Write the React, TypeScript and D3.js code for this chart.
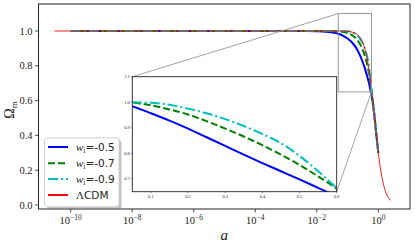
import React from "react";
import * as d3 from "d3";

// ---- data ----
const aW = [1e-10, 1e-4, 1e-3, 0.005, 0.01, 0.02, 0.03, 0.05, 0.075, 0.1, 0.15, 0.2, 0.25, 0.3, 0.35, 0.4, 0.45, 0.5, 0.55, 0.6, 0.65, 0.7, 0.75, 0.8, 0.85, 0.9, 0.95, 1.0];
const omegaW05 = [1, 1, 0.9999, 0.9995, 0.9985, 0.996, 0.992, 0.984, 0.971, 0.957, 0.928, 0.897, 0.863, 0.829, 0.795, 0.762, 0.73, 0.698, 0.665, 0.632, 0.595, 0.555, 0.51, 0.462, 0.415, 0.375, 0.337, 0.3];
const omegaW07 = [1, 1, 1, 1, 0.9999, 0.9995, 0.999, 0.998, 0.994, 0.988, 0.972, 0.952, 0.926, 0.897, 0.866, 0.832, 0.795, 0.755, 0.71, 0.662, 0.612, 0.562, 0.512, 0.462, 0.415, 0.372, 0.334, 0.3];
const omegaW09 = [1, 1, 1, 1, 1, 1, 1, 1, 0.9995, 0.998, 0.99, 0.975, 0.957, 0.934, 0.907, 0.876, 0.84, 0.79, 0.73, 0.665, 0.61, 0.558, 0.508, 0.458, 0.412, 0.37, 0.333, 0.3];
const aL = [3e-11, 1e-3, 0.01, 0.05, 0.1, 0.15, 0.2, 0.25, 0.3, 0.35, 0.4, 0.45, 0.5, 0.55, 0.6, 0.65, 0.7, 0.75, 0.8, 0.85, 0.9, 0.95, 1.0, 1.1, 1.2, 1.3, 1.4, 1.5, 1.65, 1.8, 2.0, 2.25, 2.5];
const omegaLCDM = [1, 1, 1, 0.9997, 0.9977, 0.9922, 0.9817, 0.9649, 0.9407, 0.909, 0.87, 0.8246, 0.7742, 0.7203, 0.6648, 0.6095, 0.5555, 0.504, 0.4556, 0.411, 0.3705, 0.3333, 0.3, 0.2436, 0.1987, 0.1632, 0.1351, 0.1127, 0.0871, 0.0685, 0.0508, 0.0363, 0.0267];

const seriesLabels = ["-0.5", "-0.7", "-0.9"];
const yTicks = [0, 0.2, 0.4, 0.6, 0.8, 1.0];
const xTickExps = [-10, -8, -6, -4, -2, 0];
const insetXTicks = [0.1, 0.2, 0.3, 0.4, 0.5, 0.6];
const insetYTicks = [0.7, 0.8, 0.9, 1.0, 1.1];

const series = [
  { a: aW, v: omegaW05, color: "#0000ff", dash: "none", width: 2 },
  { a: aW, v: omegaW07, color: "#008000", dash: "7,3", width: 2 },
  { a: aW, v: omegaW09, color: "#00bfbf", dash: "10,3,2,3", width: 2 },
];
const lcdm = { a: aL, v: omegaLCDM, color: "#ff0000", dash: "none", width: 0.9 };

export default function App() {
  const W = 415, H = 248;
  const L = 38.5, R = 410, T = 4, B = 209;
  const x = d3.scaleLog().domain([Math.pow(10, -11.046), Math.pow(10, 1.03)]).range([L, R]);
  const y = d3.scaleLinear().domain([-0.023, 1.155]).range([B, T]);

  const iL = 132.3, iR = 336.7, iT = 76.7, iB = 191.7;
  const ix = d3.scaleLinear().domain([0.05, 0.6]).range([iL, iR]);
  const iy = d3.scaleLinear().domain([0.65, 1.1]).range([iB, iT]);

  const mainLine = (a: number[], v: number[]) =>
    d3.line<number>().x((_, i) => x(a[i])).y((d) => y(d)).curve(d3.curveMonotoneX)(v) || "";
  const insetLine = (a: number[], v: number[]) =>
    d3.line<number>().x((_, i) => ix(a[i])).y((d) => iy(d)).curve(d3.curveMonotoneX)(v) || "";

  const zx0 = x(0.05), zx1 = x(0.6), zy0 = y(1.1), zy1 = y(0.65);

  const serif = "'Liberation Serif', 'DejaVu Serif', serif";
  const sans = "'DejaVu Sans', sans-serif";

  const legendItems = [
    ...series.map((s, i) => ({ ...s, label: seriesLabels[i], isL: false })),
    { ...lcdm, label: "CDM", isL: true, width: 2 },
  ];
  const legY = [147, 163.3, 179, 195];

  return (
    <svg width={W} height={H} style={{ position: "fixed", left: 0, top: 0, background: "#fff" }}>
      <defs>
        <clipPath id="mainClip"><rect x={L} y={T} width={R - L} height={B - T} /></clipPath>
        <clipPath id="insetClip"><rect x={iL} y={iT} width={iR - iL} height={iB - iT} /></clipPath>
      </defs>
      <rect x={0} y={0} width={W} height={H} fill="#fff" />

      <g clipPath="url(#mainClip)">
        {series.map((s, i) => (
          <path key={i} d={mainLine(s.a, s.v)} fill="none" stroke={s.color} strokeWidth={s.width}
            strokeDasharray={s.dash} />
        ))}
        <path d={mainLine(lcdm.a, lcdm.v)} fill="none" stroke={lcdm.color} strokeWidth={lcdm.width} />
      </g>

      <rect x={zx0} y={zy0} width={zx1 - zx0} height={zy1 - zy0} fill="none" stroke="#999" strokeWidth={1} />
      <line x1={zx0} y1={zy0} x2={iL} y2={iT} stroke="#999" strokeWidth={0.9} />
      <line x1={zx1} y1={zy1} x2={iR} y2={iB} stroke="#999" strokeWidth={0.9} />

      <rect x={iL} y={iT} width={iR - iL} height={iB - iT} fill="#fff" />
      <g clipPath="url(#insetClip)">
        {series.map((s, i) => (
          <path key={i} d={insetLine(s.a, s.v)} fill="none" stroke={s.color} strokeWidth={s.width}
            strokeDasharray={s.dash} />
        ))}
      </g>
      <rect x={iL} y={iT} width={iR - iL} height={iB - iT} fill="none" stroke="#222" strokeWidth={0.9} />
      {insetXTicks.map((t) => (
        <g key={t}>
          <line x1={ix(t)} x2={ix(t)} y1={iB} y2={iB + 1.5} stroke="#222" strokeWidth={0.5} />
          <text x={ix(t)} y={iB + 6.5} fontSize={4.5} fontFamily={serif} textAnchor="middle" fill="#222">{t.toFixed(1)}</text>
        </g>
      ))}
      {insetYTicks.map((t) => (
        <g key={t}>
          <line x1={iL - 1.5} x2={iL} y1={iy(t)} y2={iy(t)} stroke="#222" strokeWidth={0.5} />
          <text x={iL - 2.5} y={iy(t) + 1.5} fontSize={4.5} fontFamily={serif} textAnchor="end" fill="#222">{t.toFixed(1)}</text>
        </g>
      ))}

      <rect x={L} y={T} width={R - L} height={B - T} fill="none" stroke="#222" strokeWidth={1} />
      {yTicks.map((t) => (
        <g key={t}>
          <line x1={L - 3.5} x2={L} y1={y(t)} y2={y(t)} stroke="#222" strokeWidth={0.8} />
          <text x={L - 6} y={y(t) + 3.6} fontSize={10.5} fontFamily={serif} textAnchor="end" fill="#222">{t.toFixed(1)}</text>
        </g>
      ))}
      {xTickExps.map((e) => (
        <g key={e}>
          <line x1={x(Math.pow(10, e))} x2={x(Math.pow(10, e))} y1={B} y2={B + 3.5} stroke="#222" strokeWidth={0.8} />
          <text x={x(Math.pow(10, e))} y={224} fontSize={10.5} fontFamily={serif} textAnchor="middle" fill="#222">
            10<tspan dy={-4.5} fontSize={7.5}>{e === 0 ? "0" : "\u2212" + Math.abs(e)}</tspan>
          </text>
        </g>
      ))}

      <text x={(L + R) / 2} y={240} fontSize={15} fontStyle="italic" fontFamily={serif} textAnchor="middle" fill="#222">a</text>
      <text transform="translate(14,110) rotate(-90)" fontSize={14} fontFamily={serif} textAnchor="middle" fill="#222">
        Ω<tspan dy={3} fontSize={9}>m</tspan>
      </text>

      <rect x={47} y={140} width={74.5} height={69} rx={3} fill="#888" opacity={0.5} />
      <rect x={44.5} y={137.8} width={74.5} height={69} rx={3} fill="#fff" stroke="#ccc" strokeWidth={0.9} />
      {legendItems.map((it, i) => (
        <g key={i}>
          <line x1={48} x2={68} y1={legY[i]} y2={legY[i]} stroke={it.color} strokeWidth={it.width}
            strokeDasharray={it.dash} />
          {it.isL ? (
            <text x={76} y={legY[i] + 4} fontSize={11} fill="#222">
              <tspan fontFamily={serif}>Λ</tspan><tspan fontFamily={sans} fontSize={10.5}>CDM</tspan>
            </text>
          ) : (
            <text x={76} y={legY[i] + 4} fontSize={11} fill="#222">
              <tspan fontFamily={serif} fontStyle="italic">w</tspan>
              <tspan fontFamily={serif} fontSize={7.5} dy={2}>i</tspan>
              <tspan fontFamily={sans} fontSize={10.5} dy={-2}>={it.label}</tspan>
            </text>
          )}
        </g>
      ))}
    </svg>
  );
}
